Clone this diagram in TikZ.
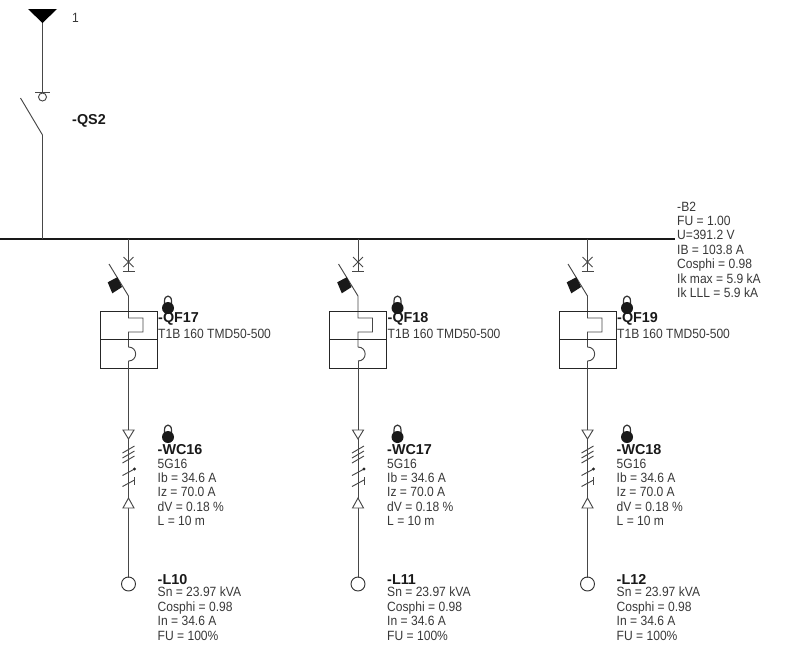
\documentclass[tikz,border=0pt]{standalone}
\usepackage{fontspec}
\setmainfont{Liberation Sans}
\newfontfamily\tagfont[FakeStretch=0.9]{Liberation Sans}
\usetikzlibrary{calc}
\tikzset{
	wire/.style={line width=0.8pt, color=black!72},
	plate/.style={line width=0.75pt, color=black!85},
	tag/.style={anchor=north west, inner sep=0pt, align=left, color=black!78, font=\tagfont\fontsize{11.4}{12.25}\selectfont},
	title/.style={anchor=north west, inner sep=0pt, color=black!90, font=\fontsize{12.2}{12.25}\selectfont\bfseries},
	load/.style={circle, draw=black!80, line width=0.8pt, inner sep=0pt, minimum size=11.9pt}
}
\def\padlock(#1,#2){
	\draw[line width=1pt, color=black!80] (#1-3.5,#2-4) -- (#1-3.5,#2-7) .. controls (#1-3.5,#2-13.5) and (#1+3.5,#2-13.5) .. (#1+3.5,#2-7) -- (#1+3.5,#2-4);
	\fill[black!90] (#1,#2) circle (6);
}
\def\feeder(#1)(#2:#3:#4){
	\begin{scope}[shift={(#1,0)}]
		%%%%% breaker %%%%%
		\coordinate (top#2) at (0,239);
		\coordinate (bar#2) at (0,271);
		\draw[wire] (top#2) -- (bar#2);
		\draw[wire] (-6,271) -- (6,271);
		\draw[wire] (-5,257) -- (5,267);
		\draw[wire] (-5,267) -- (5,257);
		\draw[wire] (-19.5,264) -- (0,296) -- (0,318) -- (14.5,318) -- (14.5,332) -- (0,332) -- (0,347);
		\fill[black!90] (-20.8,282.3) -- (-11.2,277.2) -- (-6.4,287) -- (-16.2,293.3) -- cycle;
		\draw[plate] (-28.5,311) rectangle (28.5,368);
		\draw[plate] (-28.5,339.5) -- (28.5,339.5);
		\draw[wire] (0,347) .. controls (9.5,347) and (9.5,361) .. (0,361);
		\padlock(39.5,308);
		\node[title] (qf#2) at (29.5,312) {-QF#2};
		\node[tag] (qfdata#2) at (29.5,329) {T1B 160 TMD50-500};
		%%%%% cable %%%%%
		\coordinate (load#4top) at (0,577);
		\draw[wire] (0,361) -- (load#4top);
		\draw[wire, fill=white] (-5.5,430) -- (5.5,430) -- (0,439) -- cycle;
		\draw[wire, fill=white] (-5.5,508) -- (5.5,508) -- (0,498) -- cycle;
		\draw[wire] (-6,453) -- (6,446);
		\draw[wire] (-6,458) -- (6,451);
		\draw[wire] (-6,463) -- (6,456);
		\draw[wire] (-6,475.5) -- (6,469);
		\fill[black!85] (6,469) circle (1.6);
		\draw[wire] (-6,486.5) -- (6,480);
		\draw[wire] (6,477) -- (6,485);
		\padlock(39.5,437);
		\node[title] (wc#3) at (29,444) {-WC#3};
		\node[tag] (wcdata#3) at (29,458.5) {5G16\\Ib = 34.6 A\\Iz = 70.0 A\\dV = 0.18 \%\\L = 10 m};
		%%%%% load %%%%%
		\node[load] (load#4) at (0,584) {};
		\draw[wire] (load#4top) -- (load#4);
		\node[title] (name#4) at (29,574) {-L#4};
		\node[tag] (data#4) at (29,587) {Sn = 23.97 kVA\\Cosphi = 0.98\\In = 34.6 A\\FU = 100\%};
	\end{scope}
}

\begin{document}
\begin{tikzpicture}[x=0.85pt, y=-0.85pt]
	\useasboundingbox (0,0) rectangle (800,670);
	%%%%% START %%%%%

	\coordinate (busleft) at (0,239);
	\coordinate (busright) at (675,239);
	\draw[line width=1.8pt, color=black!90] (busleft) -- (busright);
	\node[tag] (busdata) at (677,201.5) {-B2\\FU = 1.00\\U=391.2 V\\IB = 103.8 A\\Cosphi = 0.98\\Ik max = 5.9 kA\\Ik LLL = 5.9 kA};

	\fill[black] (28,9) -- (57,9) -- (42.5,23) -- cycle;
	\coordinate (source) at (42.5,23);
	\coordinate (fixed) at (42.5,92.5);
	\draw[wire] (source) -- (fixed);
	\draw[wire] (35,92.5) -- (50,92.5);
	\draw[wire] (42.5,97) circle (4);
	\draw[wire] (20.5,98) -- (42.5,135) -- (42.5,239);
	\node[tag] (sourcelabel) at (72,13.5) {1};
	\node[title] (qs) at (72,114) {-QS2};

	\feeder(128.5)(17:16:10);
	\feeder(358)(18:17:11);
	\feeder(587.5)(19:18:12);

	%%%%% END %%%%%
\end{tikzpicture}
\end{document}
